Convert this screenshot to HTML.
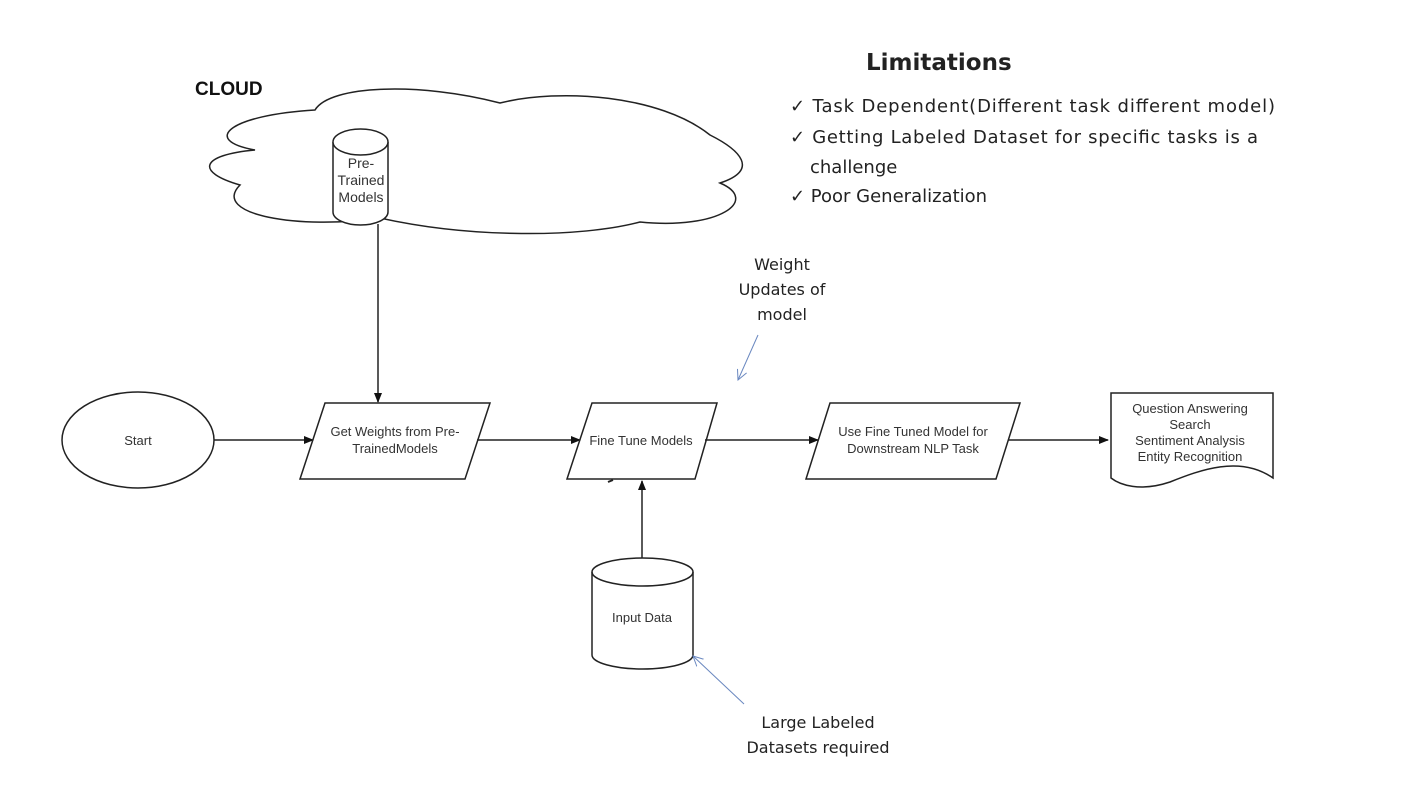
<!DOCTYPE html>
<html><head><meta charset="utf-8"><style>
body{margin:0;background:#fff;width:1401px;height:798px;overflow:hidden}
svg{display:block}
.a{font-family:"Liberation Sans",Arial,sans-serif;font-size:13px;fill:#333}
.c{font-family:"DejaVu Sans","Liberation Sans",sans-serif;fill:#222}
</style></head><body>
<svg width="1401" height="798" viewBox="0 0 1401 798">
<defs><marker id="ar" markerWidth="10" markerHeight="10" refX="9" refY="5" orient="auto" markerUnits="userSpaceOnUse"><path d="M0,1 L10,5 L0,9 z" fill="#111"/></marker>
<marker id="br" markerWidth="12" markerHeight="12" refX="10" refY="6" orient="auto" markerUnits="userSpaceOnUse"><path d="M0,1 L10,6 L0,11" fill="none" stroke="#6a88c0" stroke-width="1"/></marker></defs>
<g fill="none" stroke="#222" stroke-width="1.5">
<path d="M315,110 C330,85 420,82 500,103 C560,88 660,95 710,135 C740,150 760,170 720,183 C760,200 720,230 640,222 C580,238 470,238 380,218 C300,230 210,215 240,185 C195,172 200,155 255,150 C200,140 230,115 315,110 Z"/>
<path d="M333,142 L333,212 A27.5,13 0 0 0 388,212 L388,142" fill="#fff"/>
<ellipse cx="360.5" cy="142" rx="27.5" ry="13" fill="#fff"/>
<line x1="378" y1="224" x2="378" y2="402" marker-end="url(#ar)"/>
<ellipse cx="138" cy="440" rx="76" ry="48"/>
<line x1="214" y1="440" x2="313" y2="440" marker-end="url(#ar)"/>
<path d="M325,403 L490,403 L465,479 L300,479 Z"/>
<line x1="477" y1="440" x2="580" y2="440" marker-end="url(#ar)"/>
<path d="M592,403 L717,403 L695,479 L567,479 Z"/>
<line x1="705" y1="440" x2="818" y2="440" marker-end="url(#ar)"/>
<path d="M830,403 L1020,403 L996,479 L806,479 Z"/>
<line x1="1008" y1="440" x2="1108" y2="440" marker-end="url(#ar)"/>
<path d="M1111,393 L1273,393 L1273,478 C1240,455 1200,470 1170,482 C1140,492 1120,485 1111,478 Z"/>
<path d="M592,572 L592,655 A50.5,14 0 0 0 693,655 L693,572"/>
<ellipse cx="642.5" cy="572" rx="50.5" ry="14"/>
<line x1="642" y1="558" x2="642" y2="481" marker-end="url(#ar)"/>
<path d="M608,482 l5,-2" stroke-width="2"/>
</g>
<g stroke="#6a88c0" stroke-width="1" fill="none">
<line x1="758" y1="335" x2="738" y2="380" marker-end="url(#br)"/>
<line x1="744" y1="704" x2="693" y2="656" marker-end="url(#br)"/>
</g>
<text x="195" y="95" font-family="Liberation Sans,sans-serif" font-weight="bold" font-size="19" fill="#111">CLOUD</text>
<g class="a" text-anchor="middle">
<text x="361" y="168" font-size="14">Pre-</text><text x="361" y="185" font-size="14">Trained</text><text x="361" y="202" font-size="14">Models</text>
<text x="138" y="445">Start</text>
<text x="395" y="436">Get Weights from Pre-</text><text x="395" y="453">TrainedModels</text>
<text x="641" y="445">Fine Tune Models</text>
<text x="913" y="436">Use Fine Tuned Model for</text><text x="913" y="453">Downstream NLP Task</text>
<text x="1190" y="413">Question Answering</text><text x="1190" y="429">Search</text><text x="1190" y="445">Sentiment Analysis</text><text x="1190" y="461">Entity Recognition</text>
<text x="642" y="622">Input Data</text>
</g>
<g class="c" text-anchor="middle" font-size="16">
<text x="782" y="270">Weight</text><text x="782" y="295">Updates of</text><text x="782" y="320">model</text>
<text x="818" y="728">Large Labeled</text><text x="818" y="753">Datasets required</text>
</g>
<text x="866" y="70" class="c" font-weight="bold" font-size="23">Limitations</text>
<g class="c" font-size="18">
<text x="790" y="112" textLength="485">✓ Task Dependent(Different  task different model)</text>
<text x="790" y="143" textLength="468">✓ Getting Labeled Dataset for specific tasks is a</text>
<text x="810" y="173">challenge</text>
<text x="790" y="202">✓ Poor Generalization</text>
</g>
</svg>
</body></html>
